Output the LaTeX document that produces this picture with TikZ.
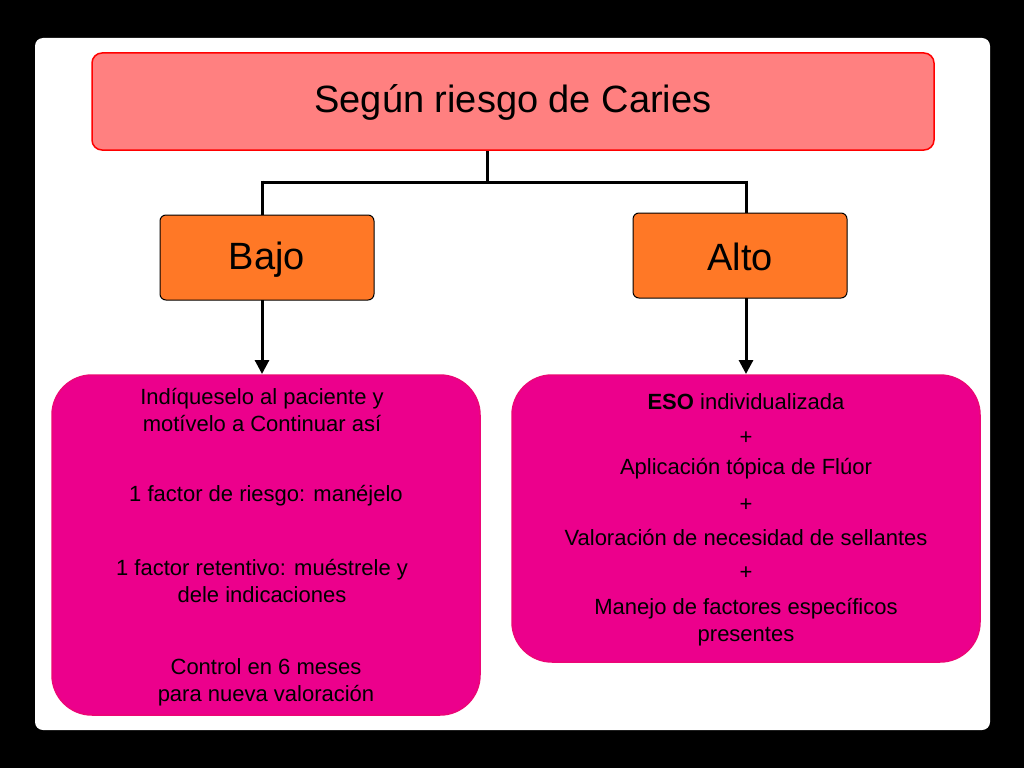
\documentclass[tikz,border=0pt]{standalone}
\usepackage{fontspec}
\setmainfont{Liberation Sans}
\usetikzlibrary{arrows.meta}
\begin{document}
\begin{tikzpicture}[x=1pt,y=-1pt,
 lvl/.style={draw=black,line width=1pt,fill=orange!80!red!90!white,rounded corners=6pt},
 pinkbox/.style={draw=magenta!80!red,line width=1.5pt,fill=magenta,rounded corners=40pt},
 conn/.style={line width=3pt},
 txt/.style={font=\fontsize{22}{27}\selectfont,align=center}]
\fill[black] (0,0) rectangle (1024,768);
\fill[white,rounded corners=8pt] (35,38) rectangle (990,730);
\draw[fill=red!50!white,draw=red,line width=1.5pt,rounded corners=10pt] (92,53) rectangle (934,150);
\node[font=\fontsize{38}{44}\selectfont] (t) at (513,102) {Según riesgo de Caries};
\draw[fill=orange!75!red!85!white,line width=1pt,rounded corners=6pt] (160,215) rectangle (374,300);
\node[font=\fontsize{38}{44}\selectfont] (b) at (267,260) {Bajo};
\draw[fill=orange!75!red!85!white,line width=1pt,rounded corners=6pt] (633,213) rectangle (847,298);
\node[font=\fontsize{38}{44}\selectfont] (a) at (740,257) {Alto};
\coordinate (tb) at (487,151);
\coordinate (j) at (487,182);
\coordinate (l) at (262,182);
\coordinate (r) at (746,182);
\draw[conn] (tb) -- (j) (l) -- (r);
\draw[conn] (262,180.5) -- (262,215);
\draw[conn] (746,180.5) -- (746,213);
\draw[pinkbox] (52,375) rectangle (480,715);
\draw[pinkbox] (512,375) rectangle (980,662);
\draw[conn,-{Triangle[length=14pt,width=14pt]}] (262,300) -- (262,374);
\draw[conn,-{Triangle[length=14pt,width=14pt]}] (746,298) -- (746,374);
\node[txt] (l1) at (262,410) {Indíqueselo al paciente y\\motívelo a Continuar así};
\node[txt] (l2) at (266,496) {1 factor de riesgo: manéjelo};
\node[txt] (l3) at (262,581) {1 factor retentivo: muéstrele y\\dele indicaciones};
\node[txt] (l4) at (266,682) {Control en 6 meses\\para nueva valoración};
\node[txt] (r1) at (746,402) {\textbf{ESO} individualizada};
\node[txt] (r2) at (746,438) {+};
\node[txt] (r3) at (746,469) {Aplicación tópica de Flúor};
\node[txt] (r4) at (746,505) {+};
\node[txt] (r5) at (746,537) {Valoración de necesidad de sellantes};
\node[txt] (r6) at (746,573) {+};
\node[txt] (r7) at (746,622) {Manejo de factores específicos\\presentes};
\end{tikzpicture}
\end{document}
